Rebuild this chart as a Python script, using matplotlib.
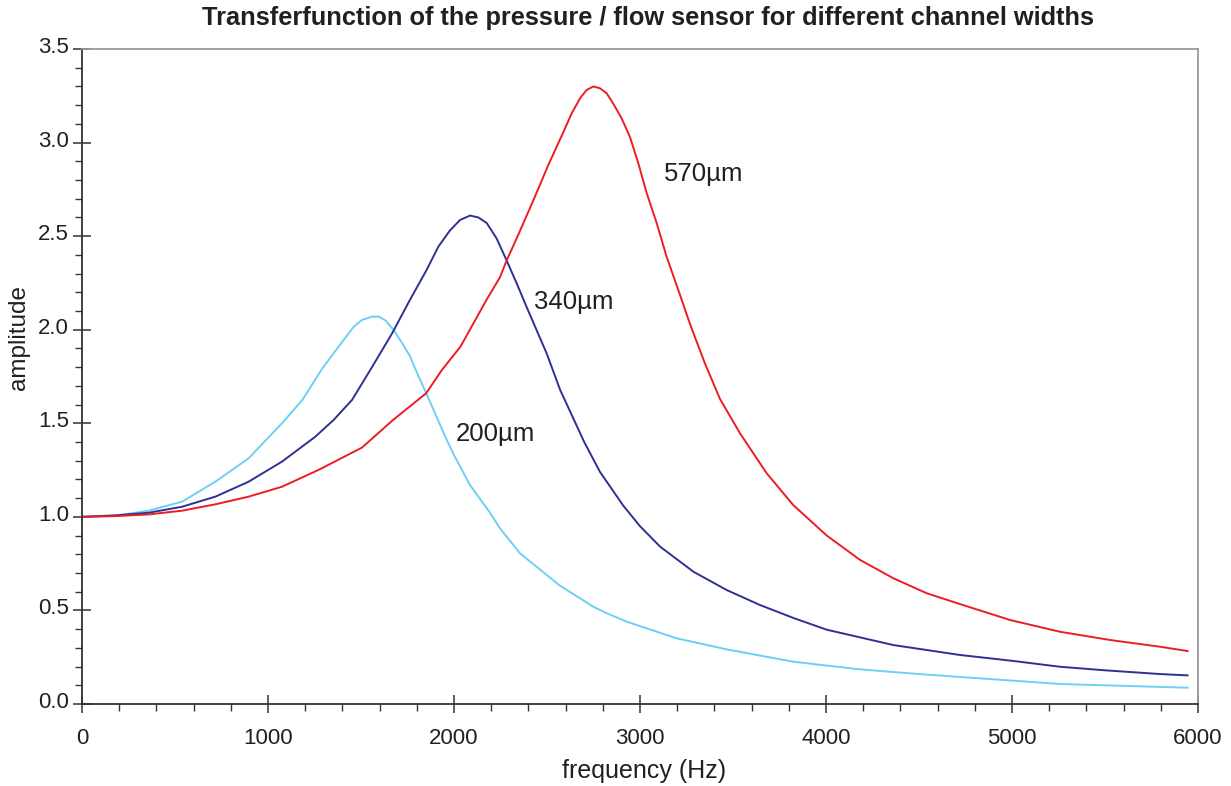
import numpy as np
import matplotlib
matplotlib.use("Agg")
import matplotlib.pyplot as plt
import matplotlib.transforms as mtransforms
from matplotlib.ticker import MultipleLocator

plt.rcParams['font.family'] = ['Liberation Sans', 'DejaVu Sans']

# 200 um channel
f_200 = [0, 180, 358, 538, 717, 896, 1075, 1185, 1290, 1380, 1461, 1505, 1559, 1595,
         1631, 1676, 1720, 1763, 1792, 1853, 1961, 2000, 2086, 2195, 2247, 2355, 2570,
         2749, 2821, 2928, 3197, 3466, 3824, 4183, 4500, 4828, 5258, 5600, 5944]
a_200 = [1.0, 1.006, 1.033, 1.081, 1.188, 1.313, 1.5, 1.625, 1.79, 1.91, 2.016, 2.052, 2.07, 2.07,
         2.05, 1.998, 1.93, 1.86, 1.79, 1.655, 1.411, 1.33, 1.17, 1.02, 0.939, 0.805, 0.632,
         0.52, 0.485, 0.44, 0.351, 0.292, 0.226, 0.185, 0.160, 0.137, 0.107, 0.097, 0.087]

# 340 um channel
f_340 = [0, 179, 358, 538, 717, 896, 1075, 1254, 1353, 1452, 1559, 1667, 1763, 1853,
         1916, 1978, 2032, 2086, 2131, 2176, 2229, 2283, 2337, 2391, 2444, 2498, 2570,
         2700, 2785, 2910, 3000, 3108, 3287, 3466, 3645, 3824, 4004, 4362, 4720, 5007,
         5258, 5500, 5796, 5944]
a_340 = [1.0, 1.008, 1.022, 1.054, 1.108, 1.188, 1.295, 1.428, 1.518, 1.625, 1.80, 1.98, 2.159, 2.32,
         2.444, 2.53, 2.586, 2.61, 2.60, 2.57, 2.488, 2.37, 2.248, 2.12, 1.998, 1.874, 1.68,
         1.40, 1.24, 1.06, 0.95, 0.841, 0.707, 0.609, 0.529, 0.46, 0.397, 0.315, 0.262, 0.23,
         0.199, 0.18, 0.16, 0.153]

# 570 um channel
f_570 = [0, 179, 358, 538, 717, 896, 1075, 1270, 1505, 1675, 1850, 1935, 2035, 2175,
         2247, 2283, 2337, 2426, 2507, 2590, 2633, 2680, 2713, 2750, 2785, 2821, 2855,
         2901, 2946, 2991, 3036, 3090, 3143, 3206, 3269, 3349, 3430, 3538, 3681, 3824,
         4004, 4183, 4362, 4541, 4720, 4989, 5258, 5527, 5796, 5944]
a_570 = [1.0, 1.004, 1.013, 1.033, 1.067, 1.108, 1.161, 1.25, 1.37, 1.52, 1.66, 1.785, 1.91, 2.16,
         2.28, 2.37, 2.488, 2.69, 2.88, 3.06, 3.157, 3.24, 3.281, 3.30, 3.29, 3.263, 3.21,
         3.13, 3.03, 2.889, 2.73, 2.569, 2.39, 2.212, 2.03, 1.82, 1.63, 1.446, 1.233, 1.063,
         0.90, 0.77, 0.672, 0.592, 0.534, 0.449, 0.386, 0.342, 0.306, 0.283]

labels = ["200µm", "340µm", "570µm"]
label_pos = [(2010, 1.443), (2430, 2.148), (3130, 2.83)]
colors = ["#6dcff6", "#2e3192", "#ed1c24"]

fig = plt.figure(figsize=(12.31, 7.86), dpi=100)
ax = fig.add_axes([82/1231, 82/786, 1116/1231, 655/786])

ax.plot(f_200, a_200, color=colors[0], lw=1.4, solid_joinstyle="round")
ax.plot(f_340, a_340, color=colors[1], lw=1.4, solid_joinstyle="round")
ax.plot(f_570, a_570, color=colors[2], lw=1.4, solid_joinstyle="round")

for lab, (x, y) in zip(labels, label_pos):
    ax.text(x, y, lab, fontsize=18.5, color="#231f20", ha="left", va="center")

ax.set_xlim(0, 6000)
ax.set_ylim(0, 3.5)
ax.xaxis.set_major_locator(MultipleLocator(1000))
ax.xaxis.set_minor_locator(MultipleLocator(200))
ax.yaxis.set_major_locator(MultipleLocator(0.5))
ax.yaxis.set_minor_locator(MultipleLocator(0.1))
ax.yaxis.set_major_formatter(plt.FormatStrFormatter("%.1f"))

ax.tick_params(which="major", direction="inout", length=13, width=1.1, color="#333333",
               labelsize=16, labelcolor="#231f20")
ax.tick_params(axis="x", which="major", pad=11)
ax.tick_params(axis="y", which="major", pad=3)
ax.tick_params(which="minor", direction="out", length=5, width=1.0, color="#333333")

offset = mtransforms.ScaledTranslation(0, 4/100, fig.dpi_scale_trans)
for lbl in ax.get_yticklabels():
    lbl.set_transform(lbl.get_transform() + offset)

for s in ["left", "bottom"]:
    ax.spines[s].set_color("#333333")
    ax.spines[s].set_linewidth(1.3)
for s in ["top", "right"]:
    ax.spines[s].set_color("#999999")
    ax.spines[s].set_linewidth(1.3)

ax.set_xlabel("frequency (Hz)", fontsize=18, color="#231f20")
ax.set_ylabel("amplitude", fontsize=17.5, color="#231f20")
ax.xaxis.set_label_coords(0.5036, -0.084)
ax.yaxis.set_label_coords(-0.047, 0.56)

fig.text(648/1231, 1 - 18/786,
         "Transferfunction of the pressure / flow sensor for different channel widths",
         fontsize=18.3, fontweight="bold", color="#231f20", ha="center", va="center")

fig.savefig("out.png", dpi=100)
